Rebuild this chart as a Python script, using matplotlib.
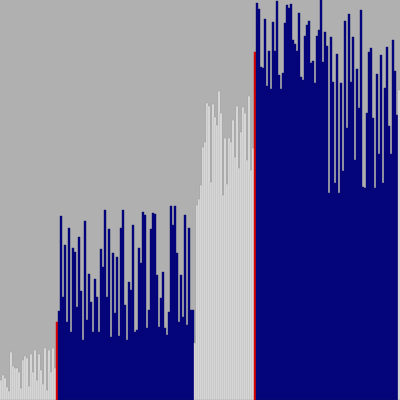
import numpy as np
import matplotlib
matplotlib.use("Agg")
import matplotlib.pyplot as plt

# bar heights (chart units, axis 0-400), left to right
gray_left = [20, 25, 22, 13, 9, 48, 34, 32, 32, 28, 12, 40, 44, 42,
             14, 46, 28, 50, 20, 46, 30, 16, 52, 10, 50, 28, 52, 32]
pivot_left = [78]
navy_left = [89, 184, 103, 155, 78, 172, 68, 152, 148, 93, 163, 109, 60, 179,
             80, 126, 98, 68, 121, 103, 68, 151, 133, 190, 103, 171, 63, 147,
             87, 143, 64, 172,
             190, 95, 60, 118, 110, 175, 68, 70, 152, 137, 188, 185, 72, 90,
             171, 187, 186, 125, 73, 102, 128, 72, 65, 88, 194, 175, 194, 147,
             78, 125, 83, 185, 75, 172, 90, 90]
gray_mid = [57, 195, 201, 215, 253, 258, 297, 294, 218, 296, 283, 275, 309, 287,
            205, 262, 216, 262, 258, 280, 243, 294, 232, 268, 293, 287, 240, 304,
            230, 252]
pivot_right = [348]
navy_right = [397, 391, 333, 332, 381, 314, 349, 311, 378, 349, 399, 325, 311, 327,
              377, 395, 392, 396, 360, 356, 349, 387, 323, 320, 364, 375, 379, 337,
              339, 317, 364, 370, 400, 338,
              368, 354, 207, 363, 318, 217, 346, 207, 317, 229, 379, 272, 386, 318,
              363, 240, 331, 292, 390, 213, 212, 287, 348, 352, 282, 212, 326, 246,
              345, 217, 312, 353, 274, 246, 360, 329, 285]
gray_end = [310]

LIGHT = "#e6e6e6"
NAVY = "#000080"
RED = "#e00000"
edge_of = {LIGHT: "#9a9a9a", NAVY: "#10106a", RED: "#c00000"}

groups = [(gray_left, LIGHT), (pivot_left, RED), (navy_left, NAVY),
          (gray_mid, LIGHT), (pivot_right, RED), (navy_right, NAVY),
          (gray_end, LIGHT)]

heights = []
colors = []
for vals, c in groups:
    heights += vals
    colors += [c] * len(vals)

x = np.arange(len(heights))

fig = plt.figure(figsize=(4, 4), dpi=100)
ax = fig.add_axes([0, 0, 1, 1])
ax.set_facecolor("#b0b0b0")
ax.bar(x, heights, width=1.0, align="edge", color=colors,
       edgecolor=[edge_of[c] for c in colors], linewidth=0.3)
ax.set_xlim(0, len(heights))
ax.set_ylim(0, 400)
ax.axis("off")
fig.patch.set_facecolor("#b0b0b0")
fig.savefig("out.png", dpi=100, facecolor=fig.get_facecolor())
